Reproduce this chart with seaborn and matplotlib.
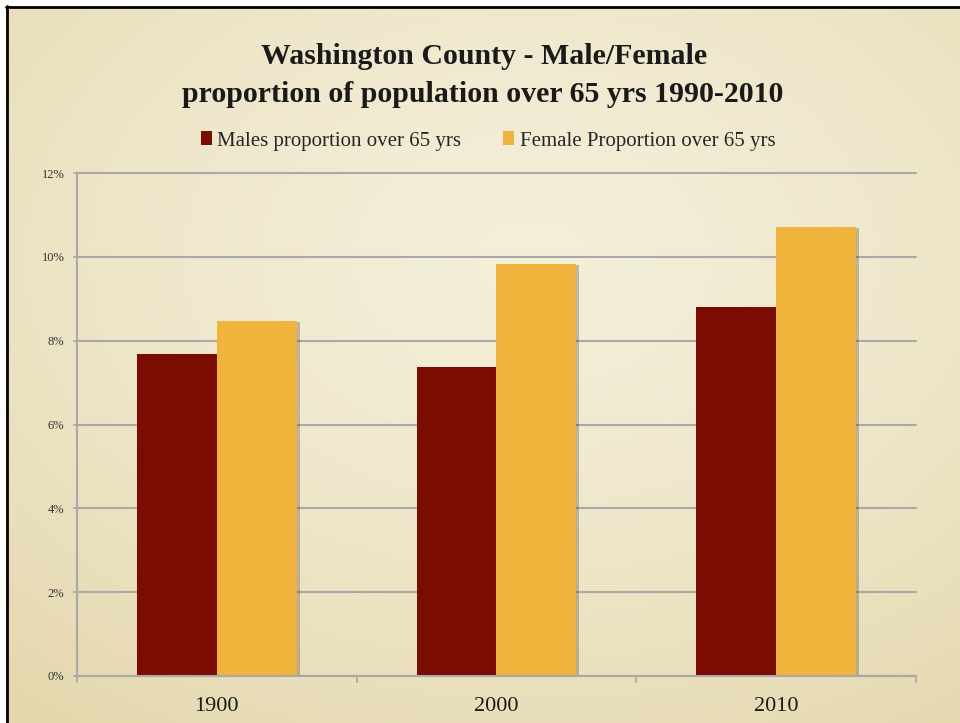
import seaborn as sns
import matplotlib.pyplot as plt
import matplotlib.patheffects as pe
import numpy as np
import pandas as pd
from matplotlib.lines import Line2D
from matplotlib.patches import Patch
from matplotlib.ticker import FixedLocator, PercentFormatter

years = ['1900', '2000', '2010']
male_pct = [7.67, 7.38, 8.81]
female_pct = [8.48, 9.83, 10.71]
series = ['Males proportion over 65 yrs', 'Female Proportion over 65 yrs']
colors = ['#7a0c02', '#f0b43c']

df = pd.DataFrame({
    'year': years * 2,
    'pct': male_pct + female_pct,
    'series': [series[0]] * 3 + [series[1]] * 3,
})

sns.set_theme(style='white')
plt.rcParams['font.family'] = ['Liberation Serif', 'DejaVu Serif']

fig = plt.figure(figsize=(9.6, 7.23), dpi=100, facecolor='white')

# parchment background
bg = fig.add_axes([8 / 960, 0, 1 - 8 / 960, 1 - 8 / 723])
yy, xx = np.mgrid[0:1:200j, 0:1:260j]
r = np.sqrt(((xx - 0.55) / 0.85) ** 2 + ((yy - 0.35) / 0.8) ** 2)
light = np.array([0.955, 0.935, 0.850])
dark = np.array([0.895, 0.845, 0.680])
t = np.clip(r, 0, 1)[..., None] ** 1.5
img = light * (1 - t) + dark * t
bg.imshow(img, aspect='auto', extent=[0, 1, 0, 1], origin='upper')
bg.set_axis_off()

# black frame lines
fig.add_artist(Line2D([7 / 960, 7 / 960], [0, 1 - 6 / 723], color='black', lw=2, transform=fig.transFigure))
fig.add_artist(Line2D([6 / 960, 1], [1 - 7 / 723, 1 - 7 / 723], color='black', lw=2, transform=fig.transFigure))

ax = fig.add_axes([77 / 960, 1 - 676 / 723, (916 - 77) / 960, (676 - 173) / 723])
ax.set_facecolor('none')

sns.barplot(data=df, x='year', y='pct', hue='series', palette=colors,
            width=0.572, saturation=1, ax=ax, legend=False)

for p in ax.patches:
    p.set_path_effects([pe.SimplePatchShadow(offset=(2, -1), shadow_rgbFace='k', alpha=0.25), pe.Normal()])
    p.set_linewidth(0)

handles = [Patch(facecolor=c, edgecolor='none') for c in colors]
fig.legend(handles, series, ncol=2, frameon=False, loc='center',
           bbox_to_anchor=(488 / 960, 1 - 141 / 723), fontsize=15,
           handlelength=0.55, handleheight=0.65, handletextpad=0.25,
           columnspacing=2.0)

ax.set_ylim(0, 12)
ax.set_xlim(-0.5, 2.5)
ax.set_yticks([0, 2, 4, 6, 8, 10, 12])
ax.yaxis.set_major_formatter(PercentFormatter(decimals=0))
ax.xaxis.set_minor_locator(FixedLocator([-0.5, 0.5, 1.5, 2.5]))
ax.grid(axis='y', color='#a9a9a9', lw=1.5)
ax.set_axisbelow(True)
for gl in ax.get_ygridlines():
    gl.set_clip_on(False)
ax.set_xlabel('')
ax.set_ylabel('')

for side in ['top', 'right']:
    ax.spines[side].set_visible(False)
for side in ['left', 'bottom']:
    ax.spines[side].set_color('#a9a9a9')
    ax.spines[side].set_linewidth(1.5)

ax.tick_params(axis='y', which='major', left=True, length=3, width=1.2, color='#a9a9a9',
               pad=6, labelsize=9, labelcolor='#333333')
ax.tick_params(axis='x', which='major', bottom=False, pad=9, labelsize=16, labelcolor='#1a1a1a')
ax.tick_params(axis='x', which='minor', bottom=True, length=5, width=1.2, color='#a9a9a9')

fig.text(484 / 960, 1 - 57 / 723, 'Washington County - Male/Female', ha='center', va='center',
         fontsize=21.5, fontweight='bold', color='#1a1a1a')
fig.text(483 / 960, 1 - 95 / 723, 'proportion of population over 65 yrs 1990-2010', ha='center',
         va='center', fontsize=21.5, fontweight='bold', color='#1a1a1a')

fig.savefig('out.png', dpi=100, facecolor='white')
